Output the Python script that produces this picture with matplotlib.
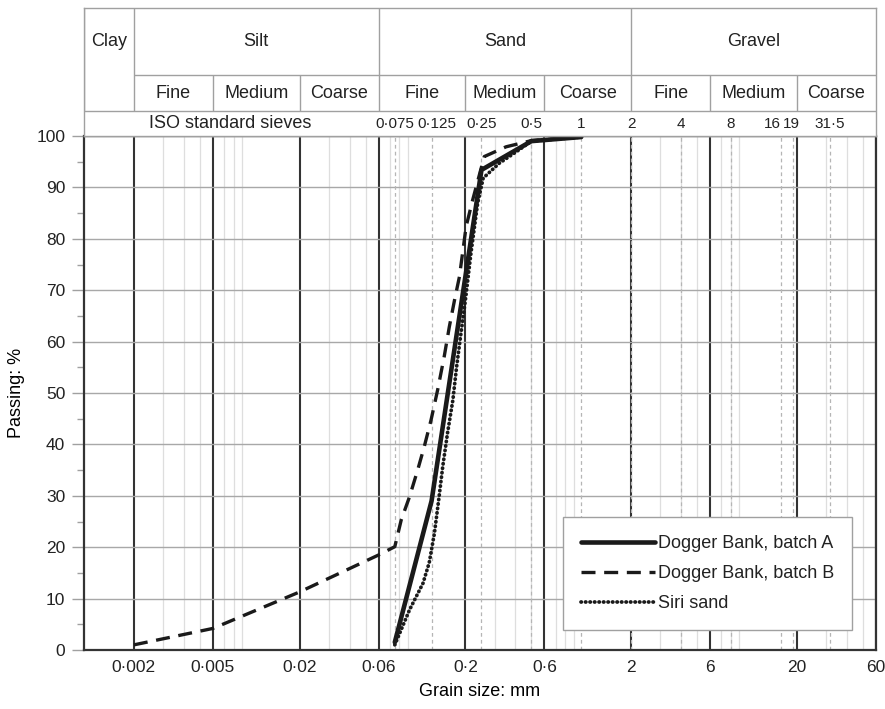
import numpy as np
import matplotlib
matplotlib.use('Agg')
import matplotlib.pyplot as plt
from matplotlib.ticker import LogLocator, NullFormatter, MultipleLocator

plt.rcParams['font.family'] = ['Liberation Sans', 'DejaVu Sans']
plt.rcParams['text.color'] = '#222222'

# Кривые гранулометрического состава (размер, мм -> проход, %)
d_a = [0.075, 0.125, 0.25, 0.5, 1.0]
p_a = [1.5, 29.0, 93.4, 99.0, 99.8]

d_b = [0.002, 0.006, 0.02, 0.06, 0.075, 0.082, 0.092, 0.103, 0.113, 0.124, 0.136,
       0.149, 0.160, 0.172, 0.184, 0.202, 0.221, 0.26, 0.352, 0.5, 1.0]
p_b = [1.0, 4.2, 11.3, 18.5, 20.1, 25.3, 29.8, 35.0, 39.6, 44.7, 50.6,
       57.1, 62.9, 68.1, 72.6, 82.4, 87.5, 96.0, 97.9, 99.1, 99.8]

d_siri = [0.075, 0.092, 0.111, 0.121, 0.130, 0.138, 0.146, 0.156, 0.168, 0.177,
          0.188, 0.2, 0.216, 0.237, 0.256, 0.32, 0.404, 0.5, 1.0]
p_siri = [1.0, 7.8, 13.0, 17.0, 22.7, 29.2, 35.7, 42.2, 48.6, 55.1,
          61.6, 68.1, 77.2, 86.9, 91.8, 94.7, 96.9, 99.0, 99.8]

labels = ['Dogger Bank, batch A', 'Dogger Bank, batch B', 'Siri sand']

# Границы фракций и подписи оси X
bounds = [0.002, 0.006, 0.02, 0.06, 0.2, 0.6, 2, 6, 20, 60]
bound_labels = ['0·002', '0·005', '0·02', '0·06', '0·2', '0·6', '2', '6', '20', '60']

# Сита ISO
sieves = [0.075, 0.125, 0.25, 0.5, 1, 2, 4, 8, 16, 19, 31.5]
sieve_labels = ['0·075', '0·125', '0·25', '0·5', '1', '2', '4', '8', '16', '19', '31·5']
# сдвиг подписей (px) и выравнивание, чтобы соседние не слипались
sieve_shift = [0, 5, 0, 0, 0, 0, 0, 0, 0, -10, 0]
sieve_ha = ['center', 'center', 'center', 'center', 'center', 'center',
            'center', 'center', 'right', 'left', 'center']

main_classes = [('Clay', 0.001, 0.002), ('Silt', 0.002, 0.06),
                ('Sand', 0.06, 2), ('Gravel', 2, 60)]
sub_names = ['Fine', 'Medium', 'Coarse']

xmin, xmax = 0.001, 60

fig = plt.figure(figsize=(8.85, 7.09), dpi=100)
ax = fig.add_axes([84 / 885, 59 / 709, 792 / 885, 514 / 709])
hax = fig.add_axes([84 / 885, 573 / 709, 792 / 885, 128 / 709])

# ---- основная область
ax.set_xscale('log')
ax.set_xlim(xmin, xmax)
ax.set_ylim(0, 100)

ax.set_xticks(bounds)
ax.set_xticklabels(bound_labels, fontsize=12.5)
ax.xaxis.set_minor_locator(LogLocator(base=10, subs=np.arange(2, 10), numticks=50))
ax.xaxis.set_minor_formatter(NullFormatter())
ax.tick_params(axis='x', which='both', length=0, pad=7, labelcolor='#222222')

ax.set_yticks(np.arange(0, 101, 10))
ax.yaxis.set_minor_locator(MultipleLocator(5))
ax.tick_params(axis='y', which='major', length=8.5, width=1, color='#a0a0a0',
               labelsize=12.5, pad=5, labelcolor='#222222')
ax.tick_params(axis='y', which='minor', length=5, width=1, color='#a0a0a0')

ax.xaxis.grid(True, which='minor', color='#dedede', lw=0.9, zorder=0)
for s in sieves:
    ax.axvline(s, color='#b5b5b5', lw=0.9, ls=(0, (3, 2.5)), zorder=1)
ax.yaxis.grid(True, which='major', color='#a8a8a8', lw=1.0, zorder=1)
ax.xaxis.grid(True, which='major', color='#333333', lw=1.5, zorder=2)
ax.set_axisbelow(True)

for side in ['left', 'bottom', 'right']:
    ax.spines[side].set_color('#333333')
    ax.spines[side].set_linewidth(1.6)
ax.spines['top'].set_color('#a0a0a0')
ax.spines['top'].set_linewidth(1.0)

ax.plot(d_a, p_a, color='#1a1a1a', lw=3.3, solid_capstyle='round', label=labels[0], zorder=5)
ax.plot(d_b, p_b, color='#1a1a1a', lw=2.4, ls=(0, (4.2, 2.6)), label=labels[1], zorder=5)
ax.plot(d_siri, p_siri, color='#1a1a1a', lw=2.7, ls=(0, (0.1, 1.1)),
        dash_capstyle='round', label=labels[2], zorder=5)

ax.set_xlabel('Grain size: mm', fontsize=13, labelpad=6)
ax.set_ylabel('Passing: %', fontsize=13, labelpad=8)

leg = ax.legend(loc='lower right', bbox_to_anchor=(0.970, 0.039), fontsize=13,
                handlelength=4.1, handletextpad=0.15, labelspacing=0.72,
                borderpad=1.0, fancybox=False, framealpha=1, borderaxespad=0)
leg.get_frame().set_edgecolor('#a0a0a0')
leg.get_frame().set_linewidth(1.0)

# ---- шапка с классификацией
hax.set_xscale('log')
hax.set_xlim(xmin, xmax)
hax.set_ylim(0, 128)
hax.set_xticks([])
hax.set_yticks([])
hax.xaxis.set_minor_locator(plt.NullLocator())
for sp in hax.spines.values():
    sp.set_color('#a0a0a0')
    sp.set_linewidth(1.0)

gc = '#a0a0a0'
hax.axhline(25, color=gc, lw=1.0)
hax.hlines(61, 0.002, xmax, color=gc, lw=1.0)
for name, lo, hi in main_classes:
    hax.vlines(lo, 25, 128, color=gc, lw=1.0)
    hax.text(np.sqrt(lo * hi), 95, name, ha='center', va='center', fontsize=13)
    if name == 'Clay':
        continue
    edges = [b for b in bounds if lo <= b <= hi]
    for k in range(3):
        if k > 0:
            hax.vlines(edges[k], 25, 61, color=gc, lw=1.0)
        hax.text(np.sqrt(edges[k] * edges[k + 1]), 43, sub_names[k],
                 ha='center', va='center', fontsize=13)

hax.text(0.0076, 12.5, 'ISO standard sieves', ha='center', va='center', fontsize=13)
for s, lab, sh, ha in zip(sieves, sieve_labels, sieve_shift, sieve_ha):
    hax.annotate(lab, (s, 12.5), xytext=(sh * 0.72, 0), textcoords='offset points',
                 ha=ha, va='center', fontsize=11)

fig.savefig('out.png', dpi=100)
